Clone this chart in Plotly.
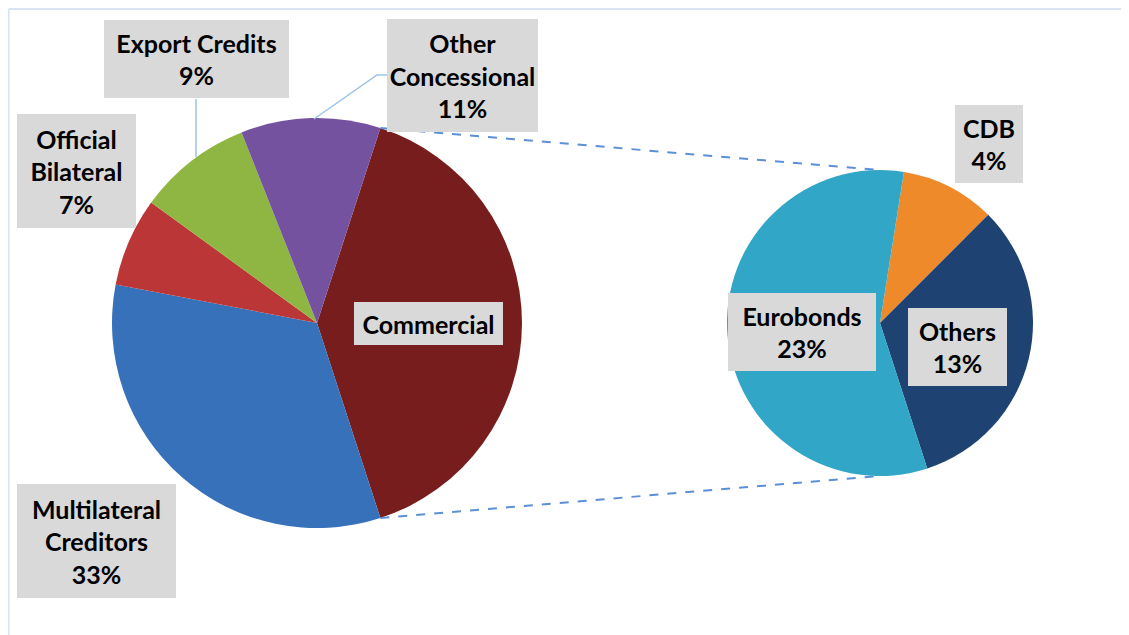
import math
import plotly.graph_objects as go

# ---- data ----
main_labels = ["Commercial", "Multilateral Creditors", "Official Bilateral", "Export Credits", "Other Concessional"]
main_values = [40, 33, 7, 9, 11]
main_colors = ["#781d1d", "#3671ba", "#bb3737", "#8fb643", "#7552a0"]

sub_labels = ["CDB", "Others", "Eurobonds"]
sub_values = [4, 13, 23]
sub_colors = ["#ee8a2a", "#1e4272", "#32a6c6"]

W, H = 1129, 635
OFF = 8  # page body margin offset in the screenshot

def px(x):
    return (x - OFF) / W

def py(y):
    return 1 - (y - OFF) / H

# geometry (screen pixels)
c1 = (317, 323); r1 = 205
c2 = (880, 323); r2 = 153
rot1 = 18
rot2 = 9

fig = go.Figure()
fig.add_trace(go.Pie(
    labels=main_labels, values=main_values, sort=False, direction="clockwise",
    rotation=rot1, textinfo="none", hoverinfo="skip",
    marker=dict(colors=main_colors, line=dict(width=0)),
    domain=dict(x=[px(c1[0] - r1), px(c1[0] + r1)], y=[py(c1[1] + r1), py(c1[1] - r1)]),
    showlegend=False,
))
fig.add_trace(go.Pie(
    labels=sub_labels, values=sub_values, sort=False, direction="clockwise",
    rotation=rot2, textinfo="none", hoverinfo="skip",
    marker=dict(colors=sub_colors, line=dict(width=0)),
    domain=dict(x=[px(c2[0] - r2), px(c2[0] + r2)], y=[py(c2[1] + r2), py(c2[1] - r2)]),
    showlegend=False,
))

shapes = []
# chart frame (top & left edges visible)
shapes.append(dict(type="line", xref="paper", yref="paper", x0=px(8.6), x1=px(1140), y0=py(9), y1=py(9),
                   line=dict(color="#d6e4f4", width=2)))
shapes.append(dict(type="line", xref="paper", yref="paper", x0=px(8.6), x1=px(8.6), y0=py(9), y1=py(650),
                   line=dict(color="#d6e4f4", width=2)))

# connectors from Commercial slice edges to secondary pie
tot = sum(main_values)
a0 = math.radians(rot1)
a1 = math.radians(rot1 + 360 * main_values[0] / tot)
p0 = (c1[0] + r1 * math.sin(a0), c1[1] - r1 * math.cos(a0))
p1 = (c1[0] + r1 * math.sin(a1), c1[1] - r1 * math.cos(a1))
q0 = (c2[0], c2[1] - r2)
q1 = (c2[0], c2[1] + r2)
for (a, b) in [(p0, q0), (p1, q1)]:
    shapes.append(dict(type="line", xref="paper", yref="paper", x0=px(a[0]), y0=py(a[1]),
                       x1=px(b[0]), y1=py(b[1]), line=dict(color="#5b8fd8", width=2, dash="dash")))

# leader lines
leader = "#9dc3e6"
shapes.append(dict(type="line", xref="paper", yref="paper", x0=px(196), y0=py(99), x1=px(196), y1=py(157),
                   line=dict(color=leader, width=1.5)))
shapes.append(dict(type="path", xref="paper", yref="paper",
                   path=f"M {px(314)},{py(119)} L {px(377)},{py(75)} L {px(387)},{py(75)}",
                   line=dict(color=leader, width=1.5)))
fig.update_layout(shapes=shapes)

FONT = dict(family="Lato, 'Open Sans', sans-serif", size=25, color="#000000")

def box(text, x0, y0, x1, y1):
    fig.add_annotation(
        x=px((x0 + x1) / 2), y=py((y0 + y1) / 2), xref="paper", yref="paper",
        xanchor="center", yanchor="middle", showarrow=False,
        text=text, font=FONT, align="center", valign="middle",
        width=x1 - x0, height=y1 - y0, bgcolor="#d9d9d9", borderpad=0, borderwidth=0,
    )

box("<b>Export Credits</b><br><b>9%</b>", 104, 20, 289, 98)
box("<b>Other</b><br><b>Concessional</b><br><b>11%</b>", 387, 19, 538, 132)
box("<b>Official</b><br><b>Bilateral</b><br><b>7%</b>", 17, 114, 136, 228)
box("<b>Multilateral</b><br><b>Creditors</b><br><b>33%</b>", 17, 484, 176, 598)
box("<b>Commercial</b>", 354, 302, 503, 345)
box("<b>Eurobonds</b><br><b>23%</b>", 728, 293, 876, 371)
box("<b>Others</b><br><b>13%</b>", 908, 308, 1007, 386)
box("<b>CDB</b><br><b>4%</b>", 955, 105, 1023, 183)

fig.update_layout(
    width=W, height=H, margin=dict(l=0, r=0, t=0, b=0),
    paper_bgcolor="white", plot_bgcolor="white",
)
fig.write_html("out.html")
